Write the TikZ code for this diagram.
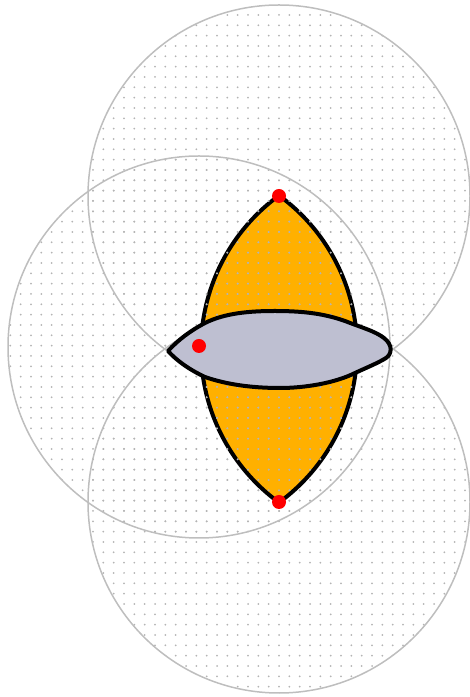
\documentclass[tikz,border=0pt]{standalone}
\usetikzlibrary{patterns}

\pgfdeclarepatternformonly{sparsedots}{\pgfqpoint{-1pt}{-1pt}}{\pgfqpoint{1pt}{1pt}}{\pgfqpoint{3.1pt}{3.1pt}}{
  \pgfpathcircle{\pgfqpoint{0pt}{0pt}}{.3pt}
  \pgfusepath{fill}
}

\definecolor{lensorange}{RGB}{255,176,0}
\definecolor{blobgray}{RGB}{190,191,209}
\definecolor{ringgray}{RGB}{190,190,190}
\definecolor{dotgray}{RGB}{180,180,180}

\tikzset{
  blobline/.style={line width=1.2pt, line join=round},
}

\begin{document}
\begin{tikzpicture}[x=0.3pt, y=0.3pt]
  \useasboundingbox (0,0) rectangle (470,697);
  % centres of the three circles
  \coordinate (T) at (279,501);
  \coordinate (L) at (199,350);
  \coordinate (B) at (279,195);
  \coordinate (Ld) at (199,351);

  % lens
  \fill[lensorange] (279,501.5) arc[start angle=53.9, end angle=-53.9, radius=190]
    arc[start angle=233.9, end angle=126.1, radius=190] -- cycle;
  \draw[blobline] (279,501.5) arc[start angle=53.9, end angle=-53.9, radius=190]
    arc[start angle=233.9, end angle=126.1, radius=190] -- cycle;

  % dotted discs
  \foreach \c in {T, L, B}
    \fill[pattern=sparsedots, pattern color=dotgray] (\c) circle (191);
  \foreach \c in {T, L, B}
    \draw[ringgray, line width=0.45pt] (\c) circle (191);

  % blob
  \draw[blobline, fill=blobgray] (168,346) .. controls (178,357) and (190,366) .. (205,374)
    .. controls (225,384) and (250,386) .. (275,386)
    .. controls (305,386) and (325,383) .. (345,376)
    .. controls (360,370) and (375,366) .. (384,359)
    .. controls (393,352) and (392,343) .. (386,339)
    .. controls (378,334) and (368,330) .. (355,324)
    .. controls (335,314) and (305,309) .. (280,309)
    .. controls (250,309) and (225,313) .. (205,320)
    .. controls (190,327) and (177,336) .. cycle;

  \fill[red] (T) circle (7); \fill[red] (Ld) circle (7); \fill[red] (B) circle (7);
\end{tikzpicture}
\end{document}
